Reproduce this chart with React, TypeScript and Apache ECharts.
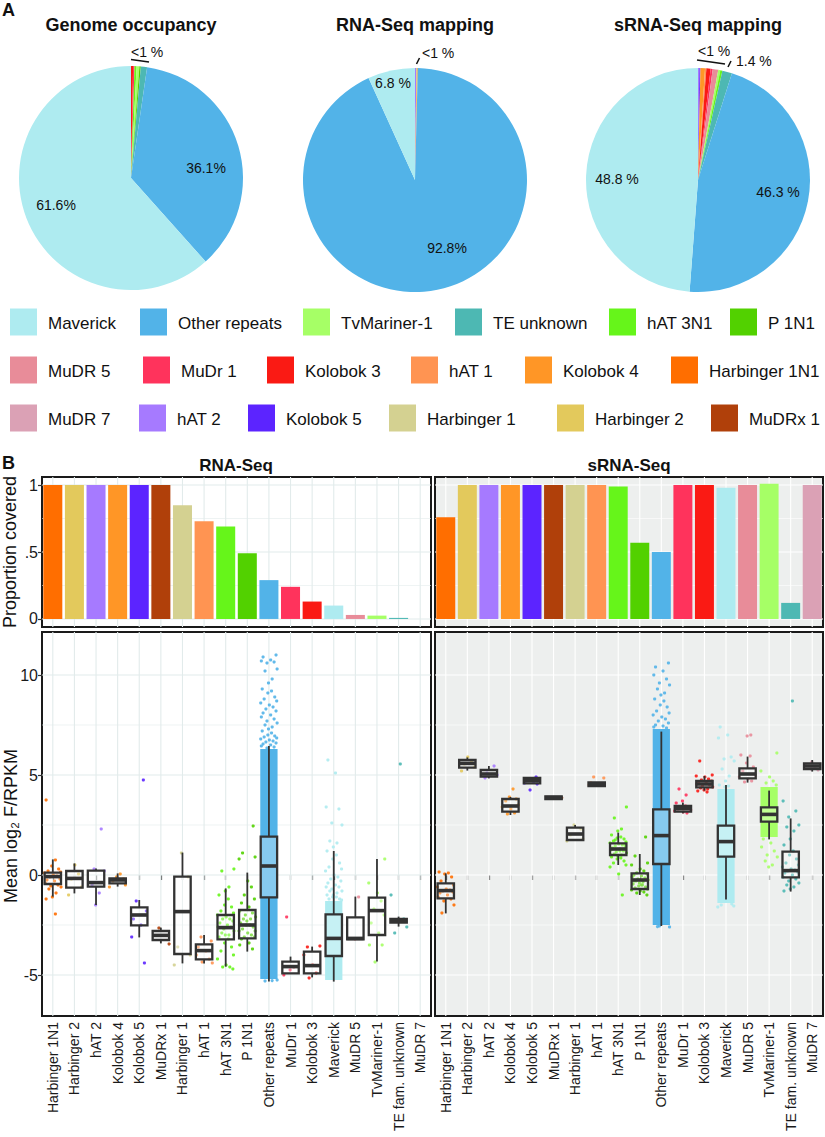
import React, { useEffect, useRef } from 'react';
import * as echarts from 'echarts';

const FONT = '"Liberation Sans", Arial, Helvetica, sans-serif';

// ---------- DATA ----------
const CATS = ['Harbinger 1N1', 'Harbinger 2', 'hAT 2', 'Kolobok 4', 'Kolobok 5', 'MuDRx 1', 'Harbinger 1', 'hAT 1', 'hAT 3N1', 'P 1N1', 'Other repeats', 'MuDr 1', 'Kolobok 3', 'Maverick', 'MuDR 5', 'TvMariner-1', 'TE fam. unknown', 'MuDR 7'];

const COLORS: Record<string, string> = {
  'Maverick': '#AEEBF0', 'Other repeats': '#52B3E8', 'TvMariner-1': '#A6FF66', 'TE unknown': '#4DB8B3',
  'hAT 3N1': '#66F51A', 'P 1N1': '#52D100', 'MuDR 5': '#E88C99', 'MuDr 1': '#FF335C', 'Kolobok 3': '#FA1A14',
  'hAT 1': '#FF9452', 'Kolobok 4': '#FF9626', 'Harbinger 1N1': '#FF6E00', 'MuDR 7': '#DBA1B5', 'hAT 2': '#A67AFF',
  'Kolobok 5': '#5C24FF', 'Harbinger 1': '#D4D191', 'Harbinger 2': '#E3C95C', 'MuDRx 1': '#B0400A',
};
const colorOf = (c: string) => COLORS[c === 'TE fam. unknown' ? 'TE unknown' : c];

const PIE_TITLES = ['Genome occupancy', 'RNA-Seq mapping', 'sRNA-Seq mapping'];
const GENOME_NAMES = ['Kolobok 3', 'MuDr 1', 'hAT 3N1', 'TvMariner-1', 'P 1N1', 'TE unknown', 'Other repeats', 'Maverick'];
const GENOME_VALUES = [0.3, 0.2, 0.3, 0.4, 0.2, 0.9, 36.1, 61.6];
const RNA_MAP_NAMES = ['hAT 2', 'Harbinger 2', 'Kolobok 4', 'Other repeats', 'Maverick'];
const RNA_MAP_VALUES = [0.2, 0.1, 0.1, 92.8, 6.8];
const SRNA_MAP_NAMES = ['hAT 2', 'Kolobok 5', 'Kolobok 4', 'hAT 1', 'Kolobok 3', 'MuDr 1', 'MuDR 5', 'TvMariner-1', 'hAT 3N1', 'TE unknown', 'Other repeats', 'Maverick'];
const SRNA_MAP_VALUES = [0.2, 0.15, 0.65, 0.2, 0.6, 0.3, 0.8, 0.3, 0.3, 1.4, 46.3, 48.8];

const LEGEND_ROWS = [
  ['Maverick', 'Other repeats', 'TvMariner-1', 'TE unknown', 'hAT 3N1', 'P 1N1'],
  ['MuDR 5', 'MuDr 1', 'Kolobok 3', 'hAT 1', 'Kolobok 4', 'Harbinger 1N1'],
  ['MuDR 7', 'hAT 2', 'Kolobok 5', 'Harbinger 1', 'Harbinger 2', 'MuDRx 1'],
];

const RNA_COVER = [1, 1, 1, 1, 1, 1, 0.85, 0.73, 0.69, 0.49, 0.29, 0.24, 0.13, 0.10, 0.03, 0.025, 0.008, 0];
const SRNA_COVER = [0.76, 1, 1, 1, 1, 1, 1, 1, 0.99, 0.57, 0.50, 1, 1, 0.98, 1, 1.01, 0.12, 1];

const COVER_TICKS = [0, 0.5, 1];
const LOG_TICKS = [-5, 0, 5, 10];

// box stats: [low whisker, q1, median, q3, high whisker]
const RNA_BOX: (number[] | null)[] = [
  [-1.08, -0.45, -0.08, 0.12, 0.78], [-0.92, -0.63, -0.17, 0.2, 0.58], [-1.5, -0.58, -0.38, 0.22, 0.33],
  [-0.58, -0.42, -0.25, -0.17, 0.08], [-3.12, -2.52, -2.0, -1.62, -1.25], [-3.42, -3.25, -3.02, -2.8, -2.63],
  [-4.42, -3.95, -1.83, -0.08, 1.12], [-4.42, -4.22, -3.78, -3.47, -3.0], [-4.58, -3.22, -2.63, -2.0, -0.67],
  [-3.83, -3.17, -2.5, -1.75, 0.12], [-5.33, -1.12, 0.45, 1.92, 6.45], [-4.95, -4.92, -4.58, -4.33, -4.08],
  [-5.12, -4.92, -4.53, -3.83, -3.58], [-5.33, -4.05, -3.17, -1.97, 1.2], [-3.22, -3.22, -3.17, -2.12, -1.08],
  [-4.33, -3.0, -1.78, -1.13, 0.8], [-2.58, -2.38, -2.28, -2.2, -2.08], null,
];
const SRNA_BOX: (number[] | null)[] = [
  [-1.92, -1.17, -0.78, -0.42, 0.08], [5.22, 5.37, 5.58, 5.75, 5.88], [4.83, 4.92, 5.05, 5.25, 5.45],
  [3.0, 3.17, 3.45, 3.8, 3.9], [4.55, 4.58, 4.72, 4.85, 4.9], [3.8, 3.8, 3.87, 3.93, 3.93],
  [1.7, 1.75, 2.05, 2.37, 2.5], [4.45, 4.45, 4.55, 4.63, 4.63], [0.5, 1.0, 1.3, 1.58, 2.12],
  [-1.0, -0.7, -0.25, 0.08, 1.05], [-2.55, 0.55, 1.97, 3.28, 7.17], [3.08, 3.17, 3.32, 3.45, 3.62],
  [4.22, 4.38, 4.55, 4.7, 4.95], [-1.22, 0.92, 1.67, 2.47, 4.5], [4.62, 4.83, 5.05, 5.33, 5.92],
  [1.78, 2.67, 3.03, 3.38, 4.22], [-0.83, -0.12, 0.22, 1.17, 2.83], [5.17, 5.3, 5.45, 5.58, 5.75],
];

// dense point clouds: [category index, low, high]
const RNA_CORES = [[10, -5.2, 6.3], [13, -5.25, -1.3]];
const SRNA_CORES = [[10, -2.5, 7.3], [13, -1.4, 4.3], [15, 1.9, 4.4]];

// individual points (mean log2 F/RPKM) per category
const RNA_POINTS: number[][] = [
  [3.75, 0.75, 0.45, 0.3, 0.2, 0.15, 0.1, 0.0, -0.05, -0.1, -0.2, -0.25, -0.3, -0.4, -0.5, -0.55, -0.6, -0.7, -0.9, -1.1, -1.2, -1.95],
  [0.5, 0.05, -0.2, -0.6, -1.0],
  [2.3, 0.3, 0.2, -0.5, -0.9, -1.5],
  [0.05, -0.1, -0.2, -0.3, -0.5, -0.6],
  [4.75, -1.3, -1.8, -2.2, -2.5, -3.1, -4.4],
  [-2.65, -3.45],
  [1.1, -0.1, -3.6, -4.0, -4.5],
  [-3.1, -3.3, -3.6, -3.8, -4.0, -4.2, -4.35, -4.4],
  [0.3, 0.2, -0.6, -0.8, -1.0, -1.2, -1.5, -1.6, -1.8, -1.9, -2.0, -2.1, -2.2, -2.2, -2.3, -2.4, -2.5, -2.6, -2.6, -2.7, -2.8, -2.9, -3.0, -3.0, -3.1, -3.2, -3.4, -3.6, -3.8, -4.0, -4.2, -4.5, -4.6, -4.6, -4.7],
  [2.45, 1.1, 0.9, 0.8, -0.3, -0.6, -1.0, -1.2, -1.4, -1.6, -1.8, -1.9, -2.0, -2.1, -2.2, -2.2, -2.3, -2.4, -2.5, -2.5, -2.6, -2.7, -2.8, -2.8, -2.9, -3.0, -3.1, -3.1, -3.2, -3.4, -3.5, -3.7],
  [11.0, 10.9, 10.75, 10.7, 10.65, 10.6, 10.3, 10.2, 9.8, 9.6, 9.3, 9.2, 9.1, 8.9, 8.8, 8.7, 8.6, 8.5, 8.4, 8.3, 8.2, 8.1, 8.0, 7.9, 7.8, 7.7, 7.6, 7.5, 7.4, 7.3, 7.2, 7.1, 7.0, 6.95, 6.9, 6.85, 6.8, 6.75, 6.7, 6.65, 6.6, 6.55, 6.5, 6.45, 6.4, 6.35, -5.25, -5.3, -5.28],
  [-2.1, -4.6, -4.75, -5.0],
  [-3.6, -3.55, -4.0, -4.5, -4.9, -5.15],
  [5.75, 5.1, 3.4, 3.3, 2.6, 2.5, 1.7, 1.6, 1.4, 1.2, 1.0, 0.8, 0.6, 0.4, 0.3, 0.2, 0.0, -0.1, -0.2, -0.3, -0.4, -0.5, -0.6, -0.6, -0.7, -0.8, -0.8, -0.9, -1.0, -1.0, -1.1, -1.1, -1.2, -1.2, -1.25],
  [-1.1, -3.2],
  [0.8, -0.4, -0.9, -1.3, -1.7, -2.0, -2.4, -2.9, -3.5, -3.5, -4.35],
  [5.55, -1.0, -2.2, -2.3, -2.6, -2.9],
  [],
];
const SRNA_POINTS: number[][] = [
  [0.15, 0.1, 0.05, -0.1, -0.3, -0.5, -0.6, -0.7, -0.75, -0.8, -0.85, -0.9, -1.0, -1.1, -1.2, -1.3, -1.5, -1.9],
  [5.9, 5.7, 5.55, 5.4, 5.2],
  [5.45, 5.1, 5.0, 4.85],
  [4.3, 3.9, 3.8, 3.7, 3.5, 3.4, 3.3, 3.1, 3.05],
  [4.9, 4.8, 4.75, 4.7, 4.65, 4.6, 4.55, 4.25],
  [3.87, 3.86, 3.85],
  [2.5, 2.3, 2.0, 1.8, 1.7],
  [4.9, 4.85, 4.6, 4.55, 4.5],
  [3.4, 2.85, 2.3, 2.2, 2.0, 1.9, 1.85, 1.8, 1.7, 1.65, 1.6, 1.55, 1.5, 1.45, 1.4, 1.35, 1.3, 1.25, 1.2, 1.15, 1.1, 1.05, 1.0, 0.95, 0.9, 0.85, 0.8, 0.7, 0.6, 0.5, 0.4, 0.05, -1.0, 1.75, 1.5, 1.3, 1.2, 1.0],
  [1.9, 0.95, 0.6, 0.5, 0.3, 0.2, 0.1, 0.05, 0.0, -0.05, -0.1, -0.15, -0.2, -0.25, -0.3, -0.35, -0.4, -0.45, -0.5, -0.55, -0.6, -0.65, -0.7, -0.75, -0.8, -0.85, -0.9, -1.0, -0.3, -0.5],
  [10.6, 10.4, 10.2, 10.0, 9.8, 9.6, 9.5, 9.3, 9.1, 9.0, 8.8, 8.7, 8.5, 8.4, 8.2, 8.1, 8.0, 7.9, 7.8, 7.7, 7.6, 7.5, 7.45, 7.4, 7.35, -2.55, -2.6, -2.58],
  [4.3, 4.0, 3.7, 3.6, 3.45, 3.4, 3.35, 3.3, 3.25, 3.2, 3.15, 3.1],
  [5.7, 5.0, 4.95, 4.9, 4.8, 4.75, 4.7, 4.65, 4.6, 4.55, 4.5, 4.45, 4.4, 4.35, 4.3, 4.25, 4.2, 4.15],
  [7.4, 7.0, 6.85, 5.9, 5.8, 5.7, 5.3, 4.95, 4.7, 4.5, 4.45, 4.4, -1.45, -1.5, -1.55, -1.6],
  [7.0, 6.95, 6.0, 5.95, 5.6, 5.4, 5.2, 5.0, 4.9, 4.8, 4.7, 4.65],
  [6.1, 5.2, 4.9, 4.7, 4.6, 4.5, 1.8, 1.6, 1.4, 1.2, 1.0, 0.9, 0.7, 0.5, 0.4],
  [8.7, 3.7, 3.2, 2.9, 2.5, 2.4, 2.2, 1.8, 1.5, 1.2, 1.0, 0.8, 0.6, 0.5, 0.4, 0.3, 0.25, 0.2, 0.15, 0.1, 0.0, -0.1, -0.2, -0.3, -0.4, -0.5, -0.6, -0.7, -0.8],
  [5.65, 5.5, 5.4, 5.3, 5.25],
];

// ---------- LAYOUT / STYLE ----------
const JITTER = [-0.31, 0.12, -0.05, 0.27, -0.22, 0.36, -0.38, 0.02, 0.19, -0.14, 0.33, -0.27, 0.08, -0.35, 0.24, -0.09, 0.38, -0.18, 0.15, -0.02];
const GRIDS = [
  { left: 42, top: 477, width: 389, height: 150, bg: '#ffffff', line: '#E2EBEB' },
  { left: 435, top: 477, width: 388, height: 150, bg: '#EDEFEE', line: '#ffffff' },
  { left: 42, top: 632, width: 389, height: 384, bg: '#ffffff', line: '#E2EBEB' },
  { left: 435, top: 632, width: 388, height: 384, bg: '#EDEFEE', line: '#ffffff' },
];
const PIE_CENTERS = [[131, 178], [415, 180], [698, 180]];
const PIE_R = 112;
const LEGEND_X = [[10, 140, 303, 455, 609, 730], [10, 143, 267, 411, 525, 671], [10, 139, 248, 389, 557, 711]];
const LEGEND_Y = [322, 370, 418];

function gridLineSeries(gi: number, major: number[], minor: number[]) {
  const color = GRIDS[gi].line;
  return [
    {
      type: 'custom', xAxisIndex: gi, yAxisIndex: gi, z: 1, silent: true,
      data: CATS.map((_, i) => [i, 0]),
      renderItem: (params: any, api: any) => {
        const cs = params.coordSys;
        const x = api.coord([api.value(0), 0])[0];
        return { type: 'line', shape: { x1: x, y1: cs.y, x2: x, y2: cs.y + cs.height }, style: { stroke: color, lineWidth: 1.1 } };
      },
    },
    {
      type: 'custom', xAxisIndex: gi, yAxisIndex: gi, z: 1, silent: true,
      data: [...major.map((v) => [0, v, 1]), ...minor.map((v) => [0, v, 0])],
      renderItem: (params: any, api: any) => {
        const cs = params.coordSys;
        const y = api.coord([0, api.value(1)])[1];
        return { type: 'line', shape: { x1: cs.x, y1: y, x2: cs.x + cs.width, y2: y }, style: { stroke: color, lineWidth: api.value(2) ? 1.1 : 0.6 } };
      },
    },
  ];
}

function coreSeries(gi: number, cores: number[][]) {
  return {
    type: 'custom', xAxisIndex: gi, yAxisIndex: gi, z: 2, silent: true,
    data: cores,
    renderItem: (params: any, api: any) => {
      const cat = api.value(0);
      const band = api.size([1, 0])[0];
      const lo = api.coord([cat, api.value(1)]);
      const hi = api.coord([cat, api.value(2)]);
      const w = band * 0.8;
      return { type: 'rect', shape: { x: lo[0] - w / 2, y: hi[1], width: w, height: lo[1] - hi[1] }, style: { fill: colorOf(CATS[cat]) } };
    },
  };
}

function pointSeries(gi: number, pts: number[][]) {
  const data: number[][] = [];
  pts.forEach((arr, cat) => arr.forEach((v, k) => data.push([cat, v, k])));
  return {
    type: 'custom', xAxisIndex: gi, yAxisIndex: gi, z: 3, silent: true,
    data,
    renderItem: (params: any, api: any) => {
      const cat = api.value(0);
      const k = api.value(2);
      const band = api.size([1, 0])[0];
      const p = api.coord([cat, api.value(1)]);
      const dx = JITTER[(k + cat * 7) % JITTER.length] * band;
      return { type: 'circle', shape: { cx: p[0] + dx, cy: p[1], r: 1.6 }, style: { fill: colorOf(CATS[cat]), opacity: 0.9 } };
    },
  };
}

function boxSeries(gi: number, boxes: (number[] | null)[]) {
  const data: number[][] = [];
  boxes.forEach((b, cat) => { if (b) data.push([cat, ...b]); });
  return {
    type: 'custom', xAxisIndex: gi, yAxisIndex: gi, z: 4, silent: true,
    encode: { x: 0, y: [1, 2, 3, 4, 5] },
    data,
    renderItem: (params: any, api: any) => {
      const cat = api.value(0);
      const band = api.size([1, 0])[0];
      const w = band * 0.76;
      const x = api.coord([cat, 0])[0];
      const Y = [1, 2, 3, 4, 5].map((d) => api.coord([cat, api.value(d)])[1]);
      const stroke = '#333333';
      return {
        type: 'group',
        children: [
          { type: 'line', shape: { x1: x, y1: Y[4], x2: x, y2: Y[3] }, style: { stroke, lineWidth: 1.8 } },
          { type: 'line', shape: { x1: x, y1: Y[1], x2: x, y2: Y[0] }, style: { stroke, lineWidth: 1.8 } },
          { type: 'rect', shape: { x: x - w / 2, y: Y[3], width: w, height: Math.max(Y[1] - Y[3], 0.5) }, style: { fill: 'rgba(255,255,255,0.3)', stroke, lineWidth: 2.3 } },
          { type: 'line', shape: { x1: x - w / 2, y1: Y[2], x2: x + w / 2, y2: Y[2] }, style: { stroke, lineWidth: 3.6 } },
        ],
      };
    },
  };
}

function pieSeries(i: number, names: string[], values: number[]) {
  return {
    type: 'pie', center: PIE_CENTERS[i], radius: PIE_R, startAngle: 90, clockwise: true, silent: true, z: 1,
    label: { show: false }, labelLine: { show: false },
    itemStyle: { borderWidth: 0 },
    data: names.map((n, k) => ({ name: n, value: values[k], itemStyle: { color: COLORS[n] } })),
  };
}

function txt(text: string, x: number, y: number, size: number, opts: any = {}) {
  const align = opts.align || 'left';
  return {
    type: 'text', x, y, z: 100, rotation: opts.rotation || 0, silent: true,
    style: {
      text, fill: opts.color || '#111111', font: `${opts.bold ? 'bold ' : ''}${size}px ${FONT}`,
      align, textAlign: align, verticalAlign: 'middle', textVerticalAlign: 'middle',
    },
  };
}
function ln(x1: number, y1: number, x2: number, y2: number, w = 1.5) {
  return { type: 'line', z: 100, silent: true, shape: { x1, y1, x2, y2 }, style: { stroke: '#111111', lineWidth: w } };
}

function buildOption() {
  const graphic: any[] = [];
  graphic.push(txt('A', 2, 10, 18, { bold: true }));
  graphic.push(txt('B', 2, 463, 18, { bold: true }));
  PIE_TITLES.forEach((t, i) => graphic.push(txt(t, PIE_CENTERS[i][0], 25, 18, { bold: true, align: 'center' })));
  // pie annotations
  graphic.push(txt(`${GENOME_VALUES[6]}%`, 206, 168, 14, { align: 'center' }));
  graphic.push(txt(`${GENOME_VALUES[7]}%`, 56, 205, 14, { align: 'center' }));
  graphic.push(txt('<1 %', 131, 52, 14));
  graphic.push(ln(131, 59.5, 149, 62));
  graphic.push(txt(`${RNA_MAP_VALUES[4]} %`, 393, 83, 14, { align: 'center' }));
  graphic.push(txt(`${RNA_MAP_VALUES[3]}%`, 447, 248, 14, { align: 'center' }));
  graphic.push(txt('<1 %', 422, 53, 14));
  graphic.push(ln(416.5, 64, 419.5, 58));
  graphic.push(txt(`${SRNA_MAP_VALUES[11]} %`, 617, 179, 14, { align: 'center' }));
  graphic.push(txt(`${SRNA_MAP_VALUES[10]} %`, 778, 192, 14, { align: 'center' }));
  graphic.push(txt('<1 %', 698, 51, 14));
  graphic.push(ln(697, 60, 725, 64));
  graphic.push(txt(`${SRNA_MAP_VALUES[9]} %`, 736, 61, 14));
  graphic.push(ln(728, 67, 731, 61));
  // legend
  LEGEND_ROWS.forEach((row, r) => row.forEach((name, c) => {
    const x = LEGEND_X[r][c];
    const y = LEGEND_Y[r];
    graphic.push({ type: 'rect', z: 100, silent: true, shape: { x, y: y - 13.5, width: 27, height: 27 }, style: { fill: COLORS[name] } });
    graphic.push(txt(name, x + 38, y + 1, 17));
  }));
  // panel titles and axis names
  graphic.push(txt('RNA-Seq', 236, 465, 17, { bold: true, align: 'center' }));
  graphic.push(txt('sRNA-Seq', 629, 465, 17, { bold: true, align: 'center' }));
  graphic.push(txt('Proportion covered', 10, 552, 18, { align: 'center', rotation: Math.PI / 2 }));
  graphic.push(txt('Mean log\u2082 F/RPKM', 11, 826, 18, { align: 'center', rotation: Math.PI / 2 }));

  const xAxis = GRIDS.map((_, gi) => {
    const bottom = gi >= 2;
    return {
      type: 'category', gridIndex: gi, data: CATS, boundaryGap: true,
      axisLine: { show: false },
      axisTick: { show: bottom, alignWithLabel: true, length: 5, lineStyle: { color: '#333333', width: 1.2 } },
      axisLabel: { show: bottom, rotate: 90, interval: 0, fontSize: 14, margin: 6, color: '#1a1a1a', fontFamily: FONT },
      splitLine: { show: false },
    };
  });
  const yAxis = GRIDS.map((_, gi) => {
    const top = gi < 2;
    const left = gi % 2 === 0;
    const ticks = top ? COVER_TICKS : LOG_TICKS;
    return {
      type: 'value', gridIndex: gi,
      min: top ? -0.06 : -7.05, max: top ? 1.06 : 12.15,
      axisLine: { show: false },
      splitLine: { show: false },
      axisTick: { show: left, customValues: ticks, length: 4, lineStyle: { color: '#333333', width: 1.2 } },
      axisLabel: {
        show: left, customValues: ticks, fontSize: 16, margin: 4, color: '#1a1a1a', fontFamily: FONT,
        formatter: (v: number) => (ticks.indexOf(v) < 0 ? '' : v === 0.5 ? '.5' : String(v)),
      },
    };
  });

  const series: any[] = [
    pieSeries(0, GENOME_NAMES, GENOME_VALUES),
    pieSeries(1, RNA_MAP_NAMES, RNA_MAP_VALUES),
    pieSeries(2, SRNA_MAP_NAMES, SRNA_MAP_VALUES),
    ...gridLineSeries(0, [0, 0.5, 1], [0.25, 0.75]),
    ...gridLineSeries(1, [0, 0.5, 1], [0.25, 0.75]),
    ...gridLineSeries(2, [-5, 0, 5, 10], [-2.5, 2.5, 7.5]),
    ...gridLineSeries(3, [-5, 0, 5, 10], [-2.5, 2.5, 7.5]),
    {
      type: 'bar', xAxisIndex: 0, yAxisIndex: 0, z: 2, silent: true, barWidth: '88%',
      data: RNA_COVER.map((v, i) => ({ value: v, itemStyle: { color: colorOf(CATS[i]) } })),
    },
    {
      type: 'bar', xAxisIndex: 1, yAxisIndex: 1, z: 2, silent: true, barWidth: '88%',
      data: SRNA_COVER.map((v, i) => ({ value: v, itemStyle: { color: colorOf(CATS[i]) } })),
    },
    coreSeries(2, RNA_CORES),
    coreSeries(3, SRNA_CORES),
    pointSeries(2, RNA_POINTS),
    pointSeries(3, SRNA_POINTS),
    boxSeries(2, RNA_BOX),
    boxSeries(3, SRNA_BOX),
  ];

  return {
    animation: false,
    backgroundColor: '#ffffff',
    textStyle: { fontFamily: FONT },
    grid: GRIDS.map((g) => ({
      left: g.left, top: g.top, width: g.width, height: g.height, show: true,
      backgroundColor: g.bg, borderColor: '#1a1a1a', borderWidth: 2, containLabel: false, outerBoundsMode: 'none',
    })),
    xAxis,
    yAxis,
    series,
    graphic: { elements: graphic, z: 100 },
  };
}

export default function App() {
  const ref = useRef<HTMLDivElement>(null);
  useEffect(() => {
    document.body.style.margin = '0';
    const chart = echarts.init(ref.current as HTMLDivElement, null, { renderer: 'svg' });
    chart.setOption(buildOption() as any);
    return () => chart.dispose();
  }, []);
  return <div ref={ref} style={{ position: 'absolute', left: 0, top: 0, width: 825, height: 1137, background: '#ffffff' }} />;
}
